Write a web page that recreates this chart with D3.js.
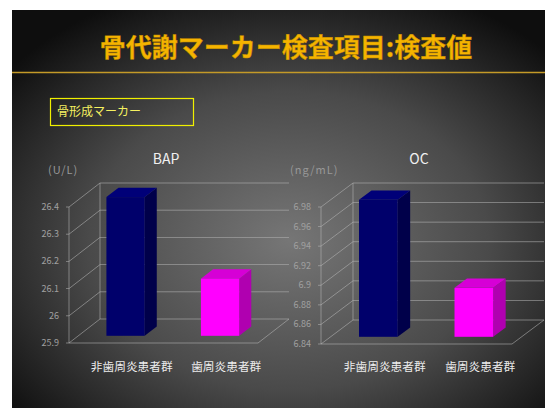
<!DOCTYPE html>
<html>
<head>
<meta charset="utf-8">
<script src="https://cdn.jsdelivr.net/npm/d3@7"></script>
<style>
  body { margin: 0; background: #fff; }
  text { font-family: "Noto Sans CJK JP", "Noto Sans", sans-serif; }
</style>
</head>
<body>
<script>
// data
var categories = ['非歯周炎患者群', '歯周炎患者群'];
var bapValues = [26.41, 26.11];
var ocValues = [6.98, 6.89];
var bapTicks = [25.9, 26, 26.1, 26.2, 26.3, 26.4];
var ocTicks = [6.84, 6.86, 6.88, 6.9, 6.92, 6.94, 6.96, 6.98];
var barColors = [
  {front: '#00006b', side: '#00004a', top: '#000078'},
  {front: '#ff00ff', side: '#b000b0', top: '#d600d6'}
];

var svg = d3.select('body').append('svg')
  .attr('width', 545)
  .attr('height', 408);

var defs = svg.append('defs');
var grad = defs.append('radialGradient')
  .attr('id', 'bg')
  .attr('cx', '52%').attr('cy', '58%').attr('r', '68%');
grad.append('stop').attr('offset', '0%').attr('stop-color', '#767676');
grad.append('stop').attr('offset', '55%').attr('stop-color', '#4a4a4a');
grad.append('stop').attr('offset', '100%').attr('stop-color', '#0e0e0e');

svg.append('rect')
  .attr('x', 12).attr('y', 10)
  .attr('width', 533).attr('height', 398)
  .attr('fill', 'url(#bg)');

// title
svg.append('text')
  .attr('x', 286).attr('y', 57)
  .attr('text-anchor', 'middle')
  .style('font-size', '26px')
  .style('font-weight', 'bold')
  .attr('fill', '#f5b400')
  .attr('stroke', '#c08a00')
  .attr('stroke-width', 0.4)
  .text('骨代謝マーカー検査項目:検査値');

svg.append('line')
  .attr('x1', 12).attr('x2', 545)
  .attr('y1', 72.5).attr('y2', 72.5)
  .attr('stroke', '#c49a28')
  .attr('stroke-width', 1.5);

svg.append('rect')
  .attr('x', 50.5).attr('y', 98.5)
  .attr('width', 143).attr('height', 27)
  .attr('fill', 'none')
  .attr('stroke', '#f0f000')
  .attr('stroke-width', 1.2);

svg.append('text')
  .attr('x', 57).attr('y', 116)
  .style('font-size', '12px')
  .attr('fill', '#f4f060')
  .text('骨形成マーカー');

var drawChart = function(cfg) {
  var g = svg.append('g');
  var dx = cfg.dx, dy = cfg.dy;
  var f0 = 0.3, f1 = 0.69;

  var y = d3.scaleLinear()
    .domain([cfg.ticks[0], cfg.ticks[cfg.ticks.length - 1]])
    .range([cfg.yBottom, cfg.yTop]);
  var x = d3.scaleBand()
    .domain(categories)
    .range([cfg.x0, cfg.x0 + cfg.w]);
  var bw = x.bandwidth() * 0.405;
  var base = cfg.ticks[0];
  var x1 = cfg.x0 + cfg.w;
  var grid = '#b8b8b8';

  // side wall diagonals + back wall gridlines
  cfg.ticks.forEach(function(t) {
    var yy = y(t);
    g.append('line')
      .attr('x1', cfg.x0).attr('y1', yy)
      .attr('x2', cfg.x0 + dx).attr('y2', yy + dy)
      .attr('stroke', grid).attr('stroke-width', 0.8).attr('opacity', 0.7);
    g.append('line')
      .attr('x1', cfg.x0 + dx).attr('y1', yy + dy)
      .attr('x2', x1 + dx).attr('y2', yy + dy)
      .attr('stroke', grid).attr('stroke-width', 0.8).attr('opacity', 0.7);
    g.append('line')
      .attr('x1', cfg.x0 - 3).attr('y1', yy)
      .attr('x2', cfg.x0).attr('y2', yy)
      .attr('stroke', grid).attr('stroke-width', 0.8).attr('opacity', 0.7);
    g.append('text')
      .attr('x', cfg.x0 - 10).attr('y', yy + 3)
      .attr('text-anchor', 'end')
      .style('font-size', '9px')
      .attr('fill', '#a0a0a0')
      .text(String(+t.toFixed(2)));
  });

  // front axis, back corner, floor
  g.append('line')
    .attr('x1', cfg.x0).attr('y1', y.range()[0])
    .attr('x2', cfg.x0).attr('y2', y.range()[1])
    .attr('stroke', grid).attr('stroke-width', 0.8).attr('opacity', 0.7);
  g.append('line')
    .attr('x1', cfg.x0 + dx).attr('y1', y.range()[0] + dy)
    .attr('x2', cfg.x0 + dx).attr('y2', y.range()[1] + dy)
    .attr('stroke', grid).attr('stroke-width', 0.8).attr('opacity', 0.7);
  g.append('path')
    .attr('d', d3.line()([[cfg.x0, y(base)], [x1, y(base)], [x1 + dx, y(base) + dy]]))
    .attr('fill', 'none')
    .attr('stroke', grid).attr('stroke-width', 0.8).attr('opacity', 0.7);

  // 3D bars
  cfg.values.forEach(function(v, i) {
    var c = barColors[i];
    var xl = x(categories[i]) + (x.bandwidth() - bw) / 2 + f0 * dx;
    var xr = xl + bw;
    var yt = y(v) + f0 * dy;
    var yb = y(base) + f0 * dy;
    var ddx = (f1 - f0) * dx, ddy = (f1 - f0) * dy;
    g.append('path')
      .attr('d', d3.line()([[xr, yt], [xr + ddx, yt + ddy], [xr + ddx, yb + ddy], [xr, yb]]) + 'Z')
      .attr('fill', c.side);
    g.append('path')
      .attr('d', d3.line()([[xl, yt], [xr, yt], [xr + ddx, yt + ddy], [xl + ddx, yt + ddy]]) + 'Z')
      .attr('fill', c.top);
    g.append('rect')
      .attr('x', xl).attr('y', yt)
      .attr('width', bw).attr('height', yb - yt)
      .attr('fill', c.front);
  });

  // category labels
  categories.forEach(function(cat) {
    g.append('text')
      .attr('x', x(cat) + x.bandwidth() / 2 + dx * 0.5)
      .attr('y', 371)
      .attr('text-anchor', 'middle')
      .style('font-size', '11.7px')
      .attr('fill', '#ececec')
      .text(cat);
  });

  g.append('text')
    .attr('x', cfg.titleX).attr('y', 164)
    .attr('text-anchor', 'middle')
    .style('font-size', '14px')
    .attr('fill', '#f0f0f0')
    .text(cfg.title);

  g.append('text')
    .attr('x', cfg.unitX).attr('y', 174)
    .style('font-size', '11px')
    .style('letter-spacing', '1px')
    .attr('fill', '#989898')
    .text(cfg.unit);
};

drawChart({
  title: 'BAP', titleX: 166, unit: '(U/L)', unitX: 48,
  values: bapValues, ticks: bapTicks,
  x0: 69, w: 189, yBottom: 343, yTop: 207, dx: 31, dy: -24
});

drawChart({
  title: 'OC', titleX: 419, unit: '(ng/mL)', unitX: 290,
  values: ocValues, ticks: ocTicks,
  x0: 321, w: 191, yBottom: 344, yTop: 207, dx: 32, dy: -24
});
</script>
</body>
</html>
